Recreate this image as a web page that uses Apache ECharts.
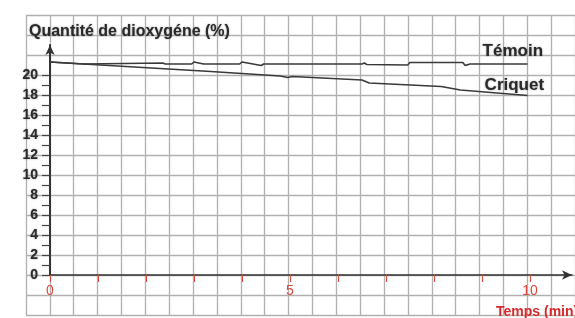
<!DOCTYPE html>
<html>
<head>
<meta charset="utf-8">
<script src="https://cdn.jsdelivr.net/npm/echarts@6/dist/echarts.min.js"></script>
<style>
  html, body { margin: 0; padding: 0; background: #fff; }
  #chart { width: 575px; height: 318px; }
</style>
</head>
<body>
<div id="chart"></div>
<script>
// temps (min) et quantité de dioxygène (%)
const tempsTemoin = [0, 0.7, 0.72, 2.35, 2.4, 2.95, 3.0, 3.2, 3.95, 4.0, 4.4, 4.45, 6.5, 6.55, 6.6, 7.45, 7.5, 8.6, 8.65, 8.75, 9.95];
const temoin = [21.3, 21.1, 21.23, 21.2, 21.1, 21.1, 21.3, 21.1, 21.1, 21.3, 20.95, 21.1, 21.1, 21.2, 21.05, 21.0, 21.25, 21.25, 20.95, 21.1, 21.1];
const tempsCriquet = [0, 0.7, 3.35, 4.8, 4.95, 5.05, 6.5, 6.65, 8.15, 8.55, 9.95];
const criquet = [21.3, 21.1, 20.35, 19.9, 19.75, 19.85, 19.5, 19.2, 18.85, 18.5, 17.95];

// graduations
const xLabels = [0, 5, 10];
const xTicks = [0, 1, 2, 3, 4, 5, 6, 7, 8, 9, 10];
const yLabels = [0, 2, 4, 6, 8, 10, 12, 14, 16, 18, 20];
const yTicks = [0, 1, 2, 3, 4, 5, 6, 7, 8, 9, 10, 11, 12, 13, 14, 15, 16, 17, 18, 19, 20];

const toPoints = (xs, ys) => xs.map((x, i) => [x, ys[i]]);

const chart = echarts.init(document.getElementById('chart'));

// texte noir un peu flou, comme sur le scan
const darkText = {
  color: '#2a2a2a',
  fontWeight: 'bold',
  fontFamily: 'Liberation Sans, Arial, sans-serif',
  textShadowColor: 'rgba(0,0,0,0.4)',
  textShadowBlur: 2
};

chart.setOption({
  animation: false,
  backgroundColor: '#fff',
  title: [{
    text: 'Quantité de dioxygéne (%)',
    left: 29,
    top: 24,
    padding: 0,
    textStyle: Object.assign({}, darkText, { fontSize: 16 })
  }, {
    text: 'Temps (min)',
    left: 496,
    top: 305,
    padding: 0,
    textStyle: { color: '#d8282a', fontSize: 14, fontWeight: 'bold', fontFamily: 'Liberation Sans, Arial, sans-serif' }
  }],
  grid: [
    // papier quadrillé
    { left: 26, top: 15, width: 552, height: 300 },
    // repère
    { left: 50, top: 45, width: 522, height: 230 }
  ],
  xAxis: [{
    gridIndex: 0, type: 'value', min: -0.5, max: 11, interval: 0.5,
    axisLine: { show: false }, axisTick: { show: false }, axisLabel: { show: false },
    splitLine: { show: true, lineStyle: { color: '#b0b0b0', width: 1.3 } }
  }, {
    gridIndex: 1, type: 'value', min: 0, max: 10.875, interval: 1,
    axisLine: { show: true, symbol: ['none', 'arrow'], symbolSize: [7, 10], lineStyle: { color: '#333', width: 1.6 } },
    axisTick: { show: true, inside: false, length: 7, customValues: xTicks, lineStyle: { color: '#e0483c', width: 1 } },
    axisLabel: { show: true, margin: 9, customValues: xLabels, color: '#e0483c', fontSize: 14, fontFamily: 'Liberation Sans, Arial, sans-serif' },
    splitLine: { show: false }
  }],
  yAxis: [{
    gridIndex: 0, type: 'value', min: -4, max: 26, interval: 2,
    axisLine: { show: false }, axisTick: { show: false }, axisLabel: { show: false },
    splitLine: { show: true, lineStyle: { color: '#b0b0b0', width: 1.3 } }
  }, {
    gridIndex: 1, type: 'value', min: 0, max: 23, interval: 1,
    axisLine: { show: true, symbol: ['none', 'arrow'], symbolSize: [7, 10], lineStyle: { color: '#333', width: 2 } },
    axisTick: { show: true, length: 8, customValues: yTicks, lineStyle: { color: '#444', width: 1.2 } },
    axisLabel: Object.assign({ show: true, margin: 12, customValues: yLabels, fontSize: 14 }, darkText),
    splitLine: { show: false }
  }],
  series: [{
    name: 'Témoin',
    type: 'line',
    xAxisIndex: 1, yAxisIndex: 1,
    data: toPoints(tempsTemoin, temoin),
    showSymbol: false,
    lineStyle: { color: '#3a3a3a', width: 1.6 },
    endLabel: Object.assign({ show: true, formatter: '{a}', offset: [-53, -13] }, darkText, { fontSize: 17 })
  }, {
    name: 'Criquet',
    type: 'line',
    xAxisIndex: 1, yAxisIndex: 1,
    data: toPoints(tempsCriquet, criquet),
    showSymbol: false,
    lineStyle: { color: '#3a3a3a', width: 1.6 },
    endLabel: Object.assign({ show: true, formatter: '{a}', offset: [-51, -10] }, darkText, { fontSize: 17 })
  }]
});
</script>
</body>
</html>
